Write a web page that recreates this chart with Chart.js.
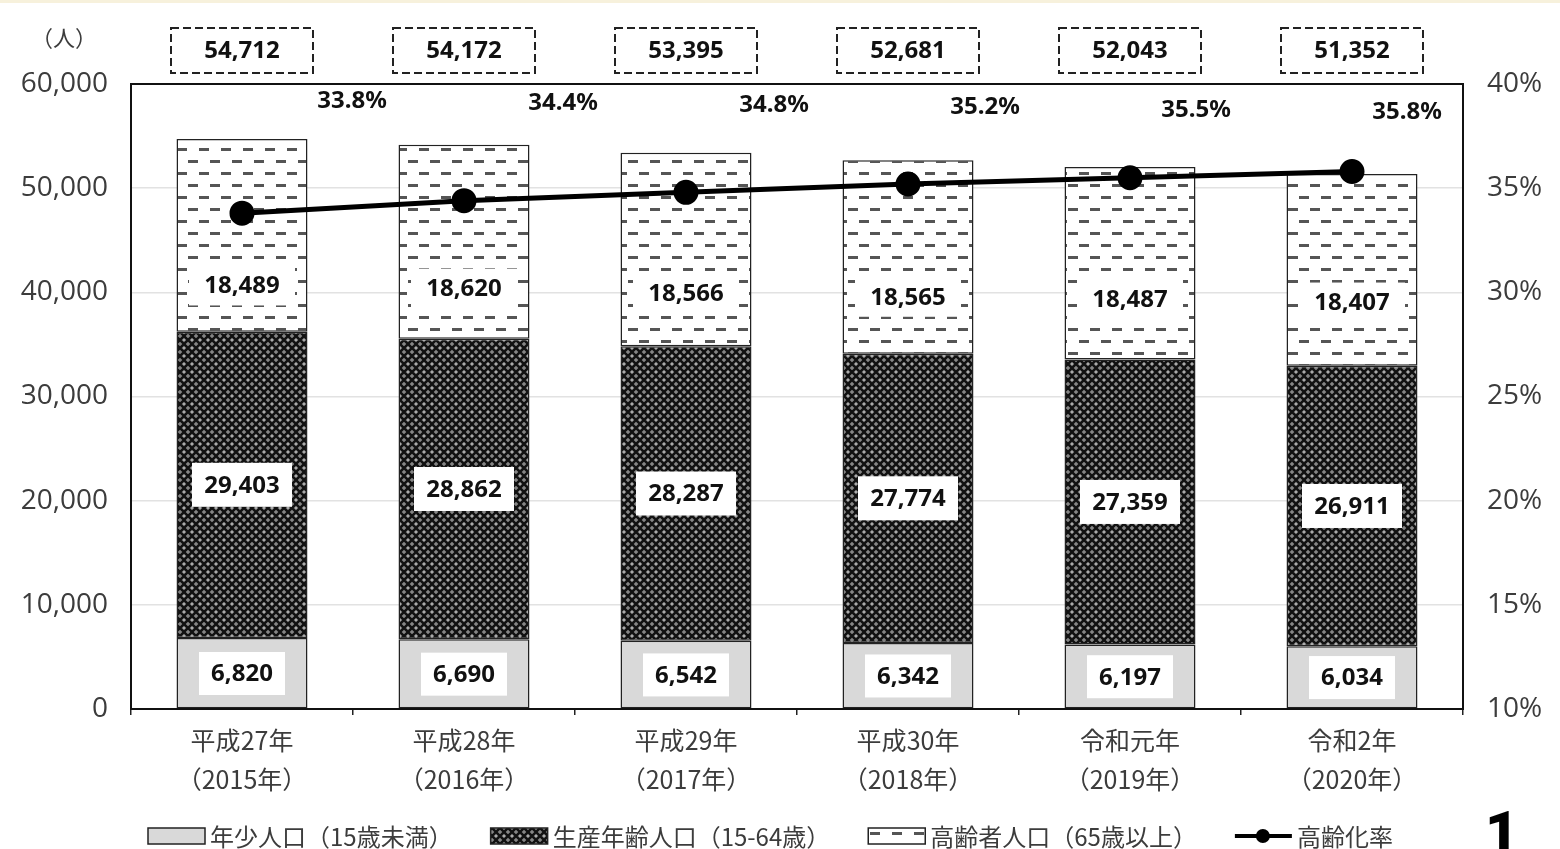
<!DOCTYPE html>
<html lang="ja">
<head>
<meta charset="utf-8">
<script src="https://cdn.jsdelivr.net/npm/chart.js@4"></script>
<style>
  html, body { margin: 0; padding: 0; background: #fff; }
  body { width: 1560px; height: 849px; overflow: hidden; position: relative; }
  .topband { position: absolute; left: 0; top: 0; width: 1560px; height: 3px; background: #f7f1dc; }
  #wrap { position: absolute; left: 0; top: 0; width: 1560px; height: 849px; }
  .pageno { position: absolute; left: 1485px; top: 803px; font: 900 58px "Roboto", "Inter", sans-serif; color: #000; line-height: 1; }
</style>
</head>
<body>
<div class="topband"></div>
<div id="wrap"><canvas id="popChart" width="1560" height="849"></canvas></div>
<div class="pageno">1</div>
<script>
// 年齢3区分別人口の推移
const years = [
  ['平成27年', '（2015年）'],
  ['平成28年', '（2016年）'],
  ['平成29年', '（2017年）'],
  ['平成30年', '（2018年）'],
  ['令和元年', '（2019年）'],
  ['令和2年', '（2020年）']
];
const young   = [6820, 6690, 6542, 6342, 6197, 6034];        // 年少人口
const working = [29403, 28862, 28287, 27774, 27359, 26911];  // 生産年齢人口
const elderly = [18489, 18620, 18566, 18565, 18487, 18407];  // 高齢者人口
const agingRate = [33.8, 34.4, 34.8, 35.2, 35.5, 35.8];      // 高齢化率(%)

const legendNames = ['年少人口（15歳未満）', '生産年齢人口（15-64歳）', '高齢者人口（65歳以上）', '高齢化率'];

const totals = young.map((v, i) => v + working[i] + elderly[i]);

const TEXT = '#3c3c3c';
const NUMFONT = '"Noto Sans", "DejaVu Sans", sans-serif';
const JPFONT = '"Noto Sans CJK JP", "Noto Sans", sans-serif';
const fmt = n => n.toLocaleString('en-US');

// 塗りパターン
function crossPattern() {
  const c = document.createElement('canvas');
  c.width = 8; c.height = 8;
  const g = c.getContext('2d');
  g.fillStyle = '#858585';
  g.fillRect(0, 0, 8, 8);
  g.strokeStyle = '#111';
  g.lineWidth = 2.4;
  g.beginPath();
  g.moveTo(-1, -1); g.lineTo(9, 9);
  g.moveTo(9, -1); g.lineTo(-1, 9);
  g.stroke();
  g.fillStyle = '#d0d0d0';
  g.fillRect(0, 3.5, 1, 1); g.fillRect(7, 3.5, 1, 1);
  return g.createPattern(c, 'repeat');
}
function dashPattern() {
  const c = document.createElement('canvas');
  c.width = 22; c.height = 24;
  const g = c.getContext('2d');
  g.fillStyle = '#fff';
  g.fillRect(0, 0, 22, 24);
  g.fillStyle = '#555';
  g.fillRect(1, 4, 10, 3);
  g.fillRect(12, 16, 10, 3);
  return g.createPattern(c, 'repeat');
}
const fillYoung = '#d9d9d9';
const fillWorking = crossPattern();
const fillElderly = dashPattern();

function labelBox(ctx, text, x, y, w, h) {
  ctx.fillStyle = '#fff';
  ctx.fillRect(x - w / 2, y - h / 2, w, h);
  ctx.fillStyle = '#111';
  ctx.fillText(text, x, y + 1);
}

// 数値ラベル・合計・高齢化率・枠線・凡例
const decorations = {
  id: 'decorations',
  afterDraw(chart) {
    const { ctx, chartArea: a, scales } = chart;
    const yS = scales.y;
    ctx.save();

    // 枠線
    ctx.strokeStyle = '#111';
    ctx.lineWidth = 2;
    ctx.strokeRect(a.left, a.top, a.right - a.left, a.bottom - a.top);

    ctx.font = 'bold 24px ' + NUMFONT;
    ctx.textAlign = 'center';
    ctx.textBaseline = 'middle';

    const barsY = chart.getDatasetMeta(0).data;
    barsY.forEach((bar, i) => {
      const x = bar.x;
      // 年少人口
      labelBox(ctx, fmt(young[i]), x, yS.getPixelForValue(young[i] / 2), 86, 43);
      // 生産年齢人口
      labelBox(ctx, fmt(working[i]), x, yS.getPixelForValue(young[i] + working[i] / 2), 100, 44);
      // 高齢者人口
      const b = yS.getPixelForValue(young[i] + working[i]);
      const t = yS.getPixelForValue(totals[i]);
      labelBox(ctx, fmt(elderly[i]), x, b - (b - t) * (0.24 + 0.018 * i), 106, 40);

      // 合計（破線枠）
      const cy = a.top - 34;
      ctx.fillStyle = '#fff';
      ctx.fillRect(x - 71, cy - 22, 142, 45);
      ctx.setLineDash([8, 4]);
      ctx.lineWidth = 2;
      ctx.strokeStyle = '#222';
      ctx.strokeRect(x - 71, cy - 22, 142, 45);
      ctx.setLineDash([]);
      ctx.fillStyle = '#111';
      ctx.fillText(fmt(totals[i]), x, cy + 1);

      // 高齢化率
      ctx.fillText(agingRate[i].toFixed(1) + '%', x + 110 - 11 * i, a.top + 17 + 2.2 * i);
    });

    // 凡例
    const ly = 836;
    let lx = 148;
    ctx.font = '24px ' + JPFONT;
    ctx.textAlign = 'left';
    const fills = [fillYoung, fillWorking, fillElderly];
    legendNames.forEach((name, k) => {
      if (k < 3) {
        ctx.fillStyle = fills[k];
        ctx.fillRect(lx, ly - 8, 57, 16);
        ctx.lineWidth = 1.5;
        ctx.strokeStyle = '#222';
        ctx.strokeRect(lx, ly - 8, 57, 16);
      } else {
        ctx.strokeStyle = '#000';
        ctx.lineWidth = 4;
        ctx.beginPath();
        ctx.moveTo(lx, ly); ctx.lineTo(lx + 57, ly);
        ctx.stroke();
        ctx.fillStyle = '#000';
        ctx.beginPath();
        ctx.arc(lx + 28, ly, 7, 0, Math.PI * 2);
        ctx.fill();
      }
      ctx.fillStyle = TEXT;
      ctx.fillText(name, lx + 62, ly + 1);
      lx += 62 + ctx.measureText(name).width + 38;
    });
    ctx.restore();
  }
};

const barBase = {
  type: 'bar',
  yAxisID: 'y',
  borderColor: '#222',
  borderWidth: 1.5,
  borderSkipped: false,
  barPercentage: 0.59,
  categoryPercentage: 1,
  order: 1
};

new Chart(document.getElementById('popChart'), {
  data: {
    labels: years,
    datasets: [
      { ...barBase, label: legendNames[0], data: young, backgroundColor: fillYoung },
      { ...barBase, label: legendNames[1], data: working, backgroundColor: fillWorking },
      { ...barBase, label: legendNames[2], data: elderly, backgroundColor: fillElderly },
      {
        type: 'line',
        label: legendNames[3],
        data: agingRate,
        yAxisID: 'y1',
        borderColor: '#000',
        backgroundColor: '#000',
        borderWidth: 5,
        pointRadius: 10,
        pointHoverRadius: 10,
        tension: 0,
        order: 0
      }
    ]
  },
  options: {
    responsive: false,
    animation: false,
    layout: { padding: { top: 84, left: 0, right: 0, bottom: 0 } },
    plugins: {
      legend: { display: false },
      tooltip: { enabled: false },
      title: { display: false }
    },
    scales: {
      x: {
        stacked: true,
        offset: true,
        grid: { display: true, drawOnChartArea: false, offset: true, color: '#222', tickLength: 6, lineWidth: 1.5 },
        border: { color: '#111', width: 2 },
        ticks: {
          color: TEXT,
          padding: 6,
          font: { family: JPFONT, size: 25, lineHeight: 1.56 }
        },
        afterFit: s => { s.height = 140; }
      },
      y: {
        stacked: true,
        position: 'left',
        min: 0,
        max: 60000,
        grid: { color: '#e2e2e2', lineWidth: 1.5, drawTicks: false },
        border: { color: '#111', width: 2 },
        ticks: {
          stepSize: 10000,
          color: TEXT,
          padding: 23,
          font: { family: '"Open Sans", sans-serif', size: 28 },
          callback: v => fmt(v)
        },
        afterFit: s => { s.width = 131; }
      },
      y1: {
        position: 'right',
        min: 10,
        max: 40,
        grid: { display: false, drawTicks: false },
        border: { color: '#111', width: 2 },
        ticks: {
          stepSize: 5,
          color: TEXT,
          padding: 24,
          font: { family: '"Open Sans", sans-serif', size: 28 },
          callback: v => v + '%'
        },
        afterFit: s => { s.width = 97; }
      }
    }
  },
  plugins: [decorations,
    {
      // 単位表示
      id: 'unit',
      afterDraw(chart) {
        const { ctx } = chart;
        ctx.save();
        ctx.font = '22px ' + JPFONT;
        ctx.fillStyle = TEXT;
        ctx.textAlign = 'center';
        ctx.textBaseline = 'middle';
        ctx.fillText('（人）', 64, 38);
        ctx.restore();
      }
    }
  ]
});
</script>
</body>
</html>
